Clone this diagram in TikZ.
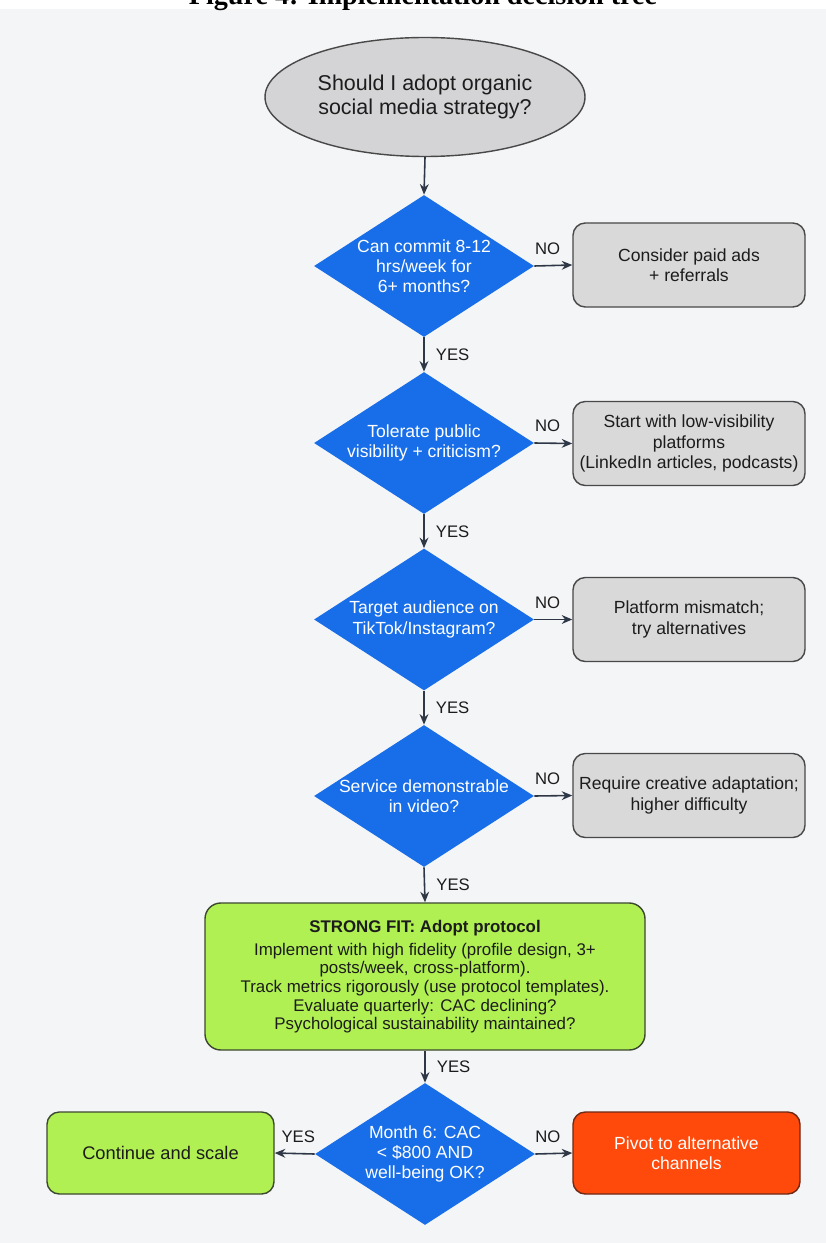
\documentclass[tikz,border=0pt]{standalone}
\usepackage{fontspec}
\setmainfont{Liberation Sans}
\newfontfamily\captionserif{Liberation Serif}
\usepackage{xcolor}
\usetikzlibrary{shapes.geometric, arrows.meta, positioning}
\definecolor{pagebg}{RGB}{244,245,247}
\definecolor{ovalgray}{RGB}{212,212,214}
\definecolor{qblue}{RGB}{24,110,232}
\definecolor{boxgray}{RGB}{217,217,217}
\definecolor{edgegray}{RGB}{72,72,72}
\definecolor{fitgreen}{RGB}{176,240,82}
\definecolor{fitedge}{RGB}{60,72,48}
\definecolor{pivotred}{RGB}{255,74,12}
\definecolor{pivotedge}{RGB}{110,40,20}
\definecolor{linkcol}{RGB}{45,55,70}
\definecolor{inkcol}{RGB}{28,28,28}
\tikzset{
  font=\fontsize{10}{11.5}\selectfont,           % body text size
  startstop/.style = {ellipse, draw=edgegray, fill=ovalgray, line width=0.8pt,
                      minimum width=6.32cm, minimum height=2.38cm, align=center,
                      text=inkcol, font=\fontsize{12.2}{14}\selectfont},
  decision/.style  = {diamond, fill=qblue, minimum width=4.4cm,
                      minimum height=2.84cm, inner sep=0pt},
  qtext/.style     = {text=white, align=center},
  process/.style   = {rectangle, rounded corners=7pt, draw=edgegray, fill=boxgray,
                      line width=0.8pt, minimum width=4.64cm, minimum height=1.68cm,
                      align=center, text=inkcol, inner sep=2pt},
  outcome/.style   = {rectangle, rounded corners=7pt, line width=0.8pt,
                      minimum width=4.54cm, minimum height=1.64cm, align=center},
  arrow/.style     = {-{Stealth[length=6pt,width=5pt]}, draw=linkcol, line width=0.9pt},
  answer/.style    = {font=\fontsize{9.5}{11}\selectfont, text=inkcol}
}

\begin{document}
\begin{tikzpicture}
  % page and backdrop
  \fill[white] (0,0) rectangle (16.52,-24.86);
  \useasboundingbox (0,0) rectangle (16.52,-24.86);
  \fill[pagebg] (0,-0.19) rectangle (16.52,-24.86);
  \node[font=\captionserif\bfseries\fontsize{16}{18}\selectfont, anchor=base] (figtitle)
    at (8.46,-0.10) {Figure 4: Implementation decision tree};

  % main column
  \node[startstop] (start) at (8.50,-1.94) {Should I adopt organic\\social media strategy?};

  \node[decision] (d1) at (8.48,-5.32) {};
  \node[qtext] (d1txt) at (d1) {Can commit 8-12\\hrs/week for\\6+ months?};
  \node[process] (b1) at (13.78,-5.30) {Consider paid ads\\+ referrals};

  \node[decision] (d2) at (8.48,-8.86) {};
  \node[qtext] (d2txt) at (d2) {Tolerate public\\visibility + criticism?};
  \node[process] (b2) at (13.78,-8.87) {Start with low-visibility\\platforms\\(LinkedIn articles, podcasts)};

  \node[decision] (d3) at (8.48,-12.39) {};
  \node[qtext] (d3txt) at (d3) {Target audience on\\TikTok/Instagram?};
  \node[process] (b3) at (13.78,-12.39) {Platform mismatch;\\try alternatives};

  \node[decision] (d4) at (8.48,-15.92) {};
  \node[qtext] (d4txt) at (d4) {Service demonstrable\\in video?};
  \node[process] (b4) at (13.78,-15.91) {Require creative adaptation;\\higher difficulty};

  \node[outcome, draw=fitedge, fill=fitgreen, text=inkcol, rounded corners=9pt,
        minimum width=8.8cm, minimum height=2.94cm, font=\fontsize{9.6}{10.6}\selectfont]
    (fit) at (8.50,-19.53)
    {\textbf{STRONG FIT: Adopt protocol}\\[2.5pt]
     Implement with high fidelity (profile design, 3+\\
     posts/week, cross-platform).\\
     Track metrics rigorously (use protocol templates).\\
     Evaluate quarterly: CAC declining?\\
     Psychological sustainability maintained?};

  \node[decision] (d5) at (8.50,-23.08) {};
  \node[qtext] (d5txt) at (d5) {Month 6: CAC\\< \$800 AND\\well-being OK?};
  \node[outcome, draw=fitedge, fill=fitgreen, text=inkcol, font=\fontsize{10.4}{12}\selectfont]
    (cont) at (3.21,-23.06) {Continue and scale};
  \node[outcome, draw=pivotedge, fill=pivotred, text=white] (pivot) at (13.73,-23.06) {Pivot to alternative\\channels};

  % connectors
  \draw[arrow] (start.south) -- (d1.north);
  \draw[arrow] (d1.east) -- node[answer, above=2.5pt, pos=0.35] {NO} (b1.west);
  \draw[arrow] (d1.south) -- node[answer, right=3pt] {YES} (d2.north);
  \draw[arrow] (d2.east) -- node[answer, above=2.5pt, pos=0.35] {NO} (b2.west);
  \draw[arrow] (d2.south) -- node[answer, right=3pt] {YES} (d3.north);
  \draw[arrow] (d3.east) -- node[answer, above=2.5pt, pos=0.35] {NO} (b3.west);
  \draw[arrow] (d3.south) -- node[answer, right=3pt] {YES} (d4.north);
  \draw[arrow] (d4.east) -- node[answer, above=2.5pt, pos=0.35] {NO} (b4.west);
  \draw[arrow] (d4.south) -- node[answer, right=3pt] {YES} (fit.north);
  \draw[arrow] (fit.south) -- node[answer, right=3pt] {YES} (d5.north);
  \draw[arrow] (d5.west) -- node[answer, above=2.5pt, pos=0.41] {YES} (cont.east);
  \draw[arrow] (d5.east) -- node[answer, above=2.5pt, pos=0.34] {NO} (pivot.west);
\end{tikzpicture}
\end{document}
